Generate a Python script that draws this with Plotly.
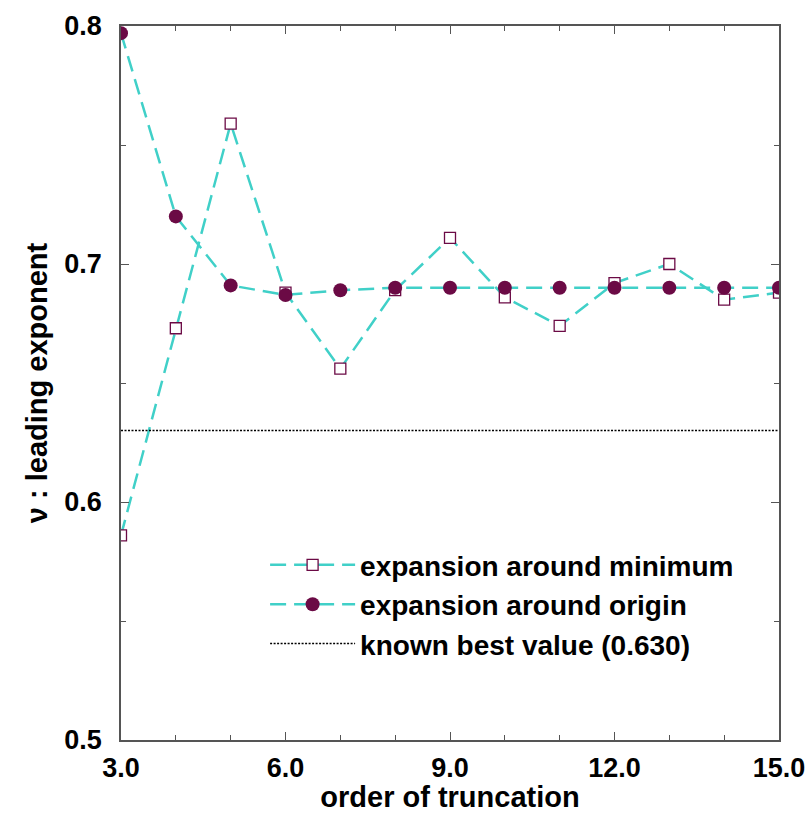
import plotly.graph_objects as go

# truncation orders
orders = [3, 4, 5, 6, 7, 8, 9, 10, 11, 12, 13, 14, 15]
# leading exponent from the expansion around the minimum
nu_minimum = [0.586, 0.673, 0.759, 0.688, 0.656, 0.689, 0.711, 0.686, 0.674, 0.692, 0.700, 0.685, 0.688]
# leading exponent from the expansion around the origin
nu_origin = [0.797, 0.720, 0.691, 0.687, 0.689, 0.690, 0.690, 0.690, 0.690, 0.690, 0.690, 0.690, 0.690]
best_value = 0.630

x_ticks = [3, 6, 9, 12, 15]
x_tick_text = ["3.0", "6.0", "9.0", "12.0", "15.0"]
y_ticks = [0.5, 0.6, 0.7, 0.8]
y_tick_text = ["0.5", "0.6", "0.7", "0.8"]

line_color = "#40D0C8"
mark_color = "#6B0A45"
frame_color = "#555555"
font_family = "Liberation Sans, Arial, sans-serif"

fig = go.Figure()

fig.add_trace(go.Scatter(
    x=orders, y=nu_minimum, mode="lines+markers",
    name="expansion around minimum",
    line=dict(color=line_color, width=2.5, dash="16px,8px"),
    marker=dict(symbol="square", size=11, color="white",
                line=dict(color=mark_color, width=1.3)),
))
fig.add_trace(go.Scatter(
    x=orders, y=nu_origin, mode="lines+markers",
    name="expansion around origin",
    line=dict(color=line_color, width=2.5, dash="16px,8px"),
    marker=dict(symbol="circle", size=14, color=mark_color),
))
fig.add_trace(go.Scatter(
    x=[orders[0], orders[-1]], y=[best_value, best_value], mode="lines",
    name="known best value (0.630)",
    line=dict(color="black", width=1.5, dash="2px,1.5px"),
))

axis_common = dict(
    showgrid=False, zeroline=False, showline=True, linecolor=frame_color,
    linewidth=1.5, mirror="allticks", ticks="inside", ticklen=8,
    tickcolor=frame_color, tickwidth=1.3, automargin=False,
)

fig.update_xaxes(
    range=[3, 15], tickvals=x_ticks, ticktext=["<b>" + t + "</b>" for t in x_tick_text],
    tickfont=dict(family=font_family, size=27, color="black"),
    ticklabelstandoff=3,
    title=dict(text="<b>order of truncation</b>", standoff=9,
               font=dict(family=font_family, size=29, color="black")),
    minor=dict(dtick=1, ticks="inside", ticklen=5, tickcolor=frame_color),
    **axis_common,
)
fig.update_yaxes(
    range=[0.5, 0.8], tickvals=y_ticks, ticktext=["<b>" + t + "</b>" for t in y_tick_text],
    tickfont=dict(family=font_family, size=27, color="black"),
    ticklabelstandoff=12,
    title=dict(text="<b>\u03bd : leading exponent</b>", standoff=8,
               font=dict(family=font_family, size=29, color="black")),
    minor=dict(dtick=0.05, ticks="inside", ticklen=5, tickcolor=frame_color),
    **axis_common,
)

fig.update_layout(
    width=809, height=813,
    margin=dict(l=121, r=30, t=26, b=73),
    paper_bgcolor="white", plot_bgcolor="white",
    showlegend=True,
    legend=dict(
        x=0.219, y=0.280, xanchor="left", yanchor="top",
        bgcolor="rgba(0,0,0,0)", itemwidth=85,
        font=dict(family=font_family, size=28, color="black"),
        tracegroupgap=0,
    ),
)
fig.for_each_trace(lambda t: t.update(name="<b>" + t.name + "</b>"))

fig.write_html("out.html")
